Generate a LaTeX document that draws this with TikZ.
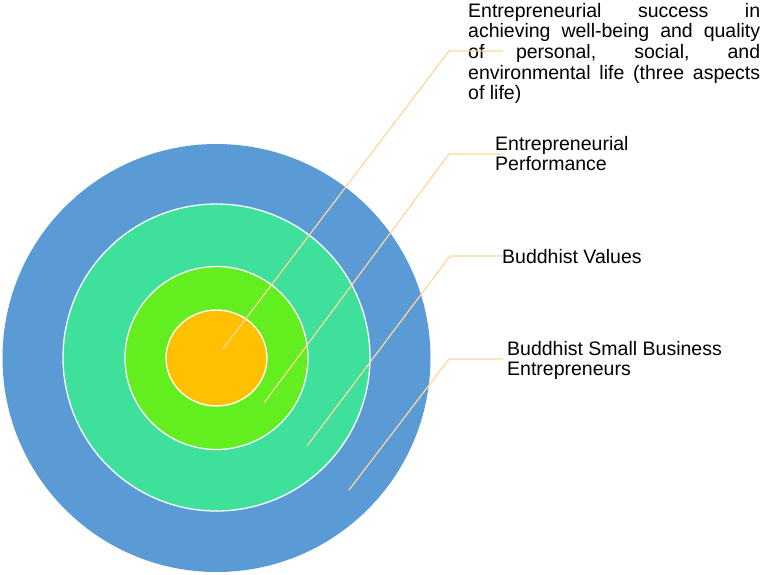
\documentclass[tikz,border=0pt]{standalone}
\usepackage{fontspec}
\setmainfont{Liberation Sans}
\usetikzlibrary{shapes.geometric}
\definecolor{ringblue}{HTML}{5B9BD5}
\definecolor{ringteal}{HTML}{3FE09B}
\definecolor{ringgreen}{HTML}{63EE1F}
\definecolor{ringorange}{HTML}{FFC000}
\definecolor{leader}{HTML}{FFD59C}
\begin{document}
\begin{tikzpicture}[x=1pt,y=-1pt,
  ring/.style={circle,inner sep=0pt,draw=white,line width=1.3pt},
  leaderline/.style={draw=leader,line width=1.2pt},
  lbl/.style={anchor=base west,inner sep=0pt,font=\fontsize{19.5}{20.7}\selectfont,text=black}]
\useasboundingbox (0,0) rectangle (765,574);
\node[circle,inner sep=0pt,fill=ringblue,minimum size=428pt] (outer) at (216.5,358) {};
\node[ring,fill=ringteal,minimum size=307pt] (teal) at (216.5,357.5) {};
\node[ring,fill=ringgreen,minimum size=183pt] (green) at (216.5,358) {};
\node[ellipse,inner sep=0pt,draw=white,line width=1.3pt,fill=ringorange,minimum width=101pt,minimum height=96pt] (core) at (216.5,358) {};
% labels
\node[lbl] (l1) at (468,17) {\parbox[t]{292pt}{\makebox[292pt][s]{Entrepreneurial success in}\\
\makebox[292pt][s]{achieving well-being and quality}\\
\makebox[292pt][s]{of personal, social, and}\\
\makebox[292pt][s]{environmental life (three aspects}\\
of life)}};
\node[lbl] (l2) at (495,150) {\parbox[t]{200pt}{Entrepreneurial\\Performance}};
\node[lbl] (l3) at (502,263) {Buddhist Values};
\node[lbl] (l4) at (507,355) {\parbox[t]{250pt}{Buddhist Small Business\\Entrepreneurs}};
% leader coordinates
\coordinate (p1) at (222,350); \coordinate (e1) at (449,51); \coordinate (t1) at (503,51);
\coordinate (p2) at (264,403); \coordinate (e2) at (449,154); \coordinate (t2) at (503,154);
\coordinate (p3) at (307,446); \coordinate (e3) at (450,256); \coordinate (t3) at (503,256);
\coordinate (p4) at (349,490); \coordinate (e4) at (449,359); \coordinate (t4) at (503,359);
\draw[leaderline] (p1) -- (e1) -- (t1);
\draw[leaderline] (p2) -- (e2) -- (t2);
\draw[leaderline] (p3) -- (e3) -- (t3);
\draw[leaderline] (p4) -- (e4) -- (t4);
\end{tikzpicture}
\end{document}
